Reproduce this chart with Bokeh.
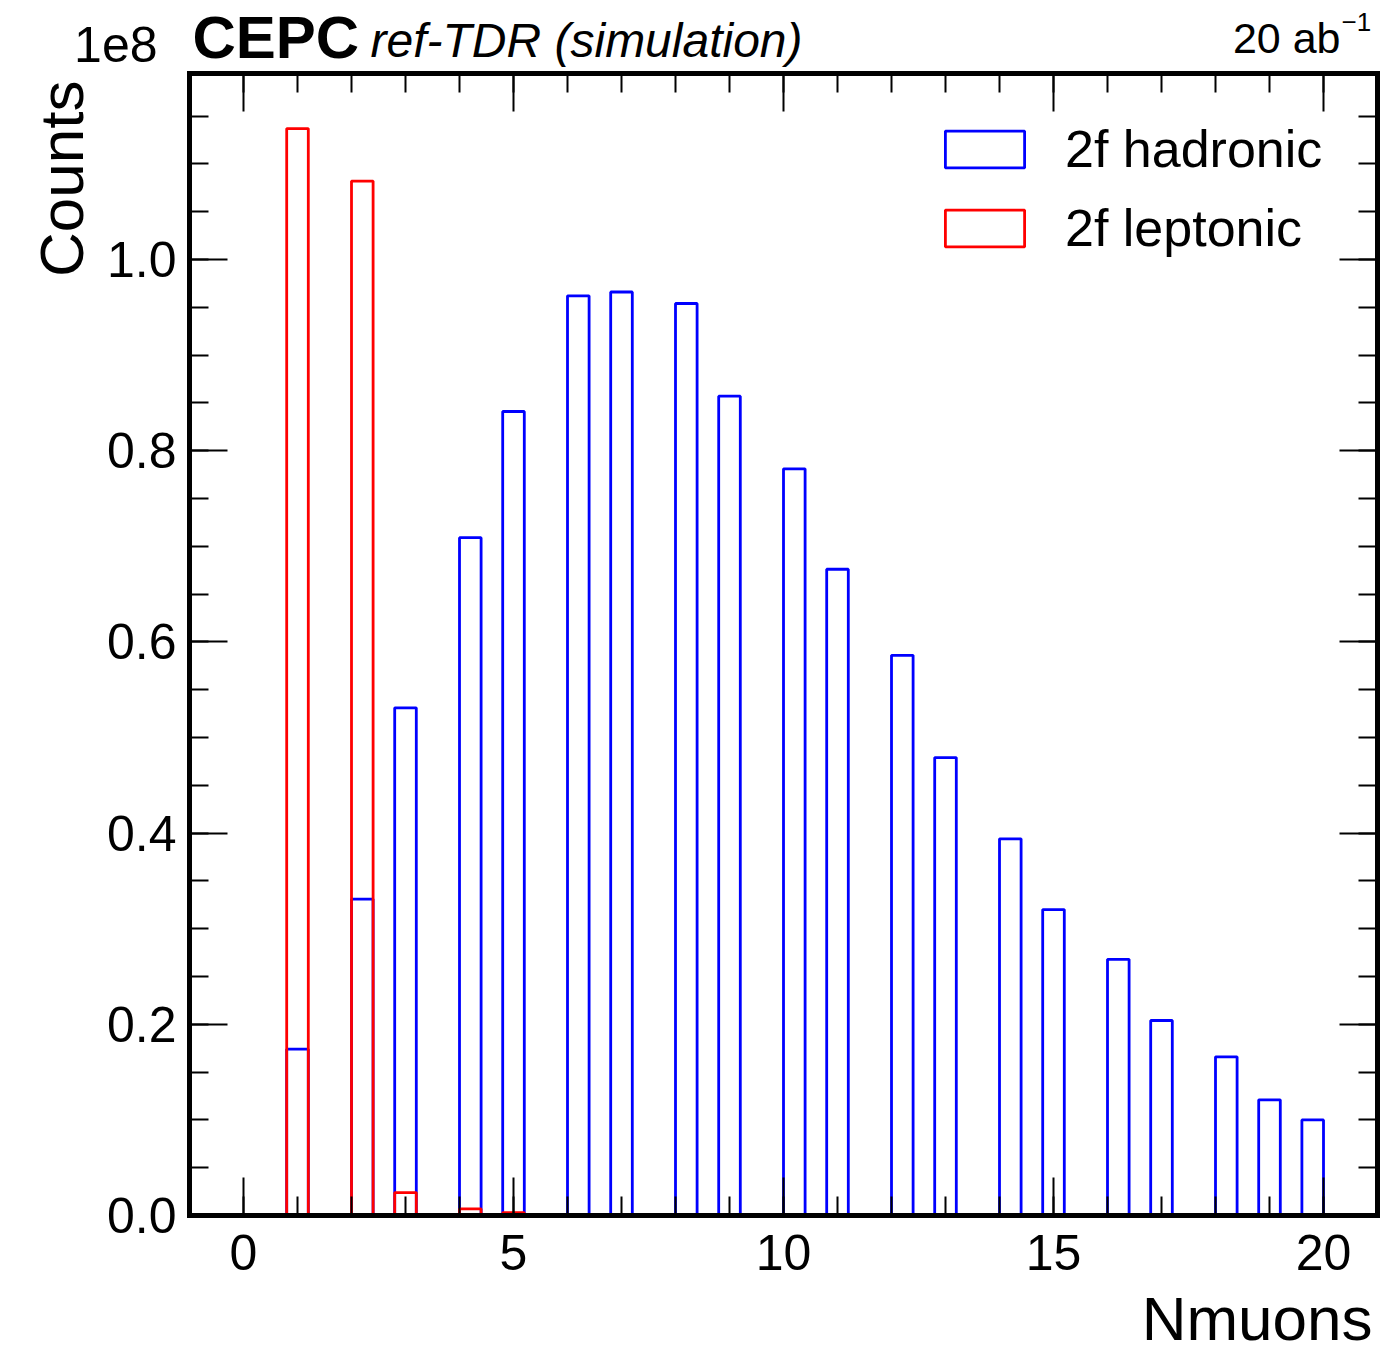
import numpy as np
from bokeh.plotting import figure
from bokeh.models import (ColumnDataSource, FixedTicker, LinearAxis, Label, Legend, LegendItem,
                          CustomJSTickFormatter, Range1d)
from bokeh.embed import file_html
from bokeh.resources import INLINE

# ---------------- data ----------------
nmuons = list(range(1, 21))
# counts per Nmuons value (raw counts)
hadronic_counts = [0.174e8, 0.331e8, 0.531e8, 0.709e8, 0.841e8, 0.962e8, 0.966e8, 0.954e8,
                   0.857e8, 0.781e8, 0.676e8, 0.586e8, 0.479e8, 0.394e8, 0.320e8, 0.268e8,
                   0.204e8, 0.166e8, 0.121e8, 0.100e8]
leptonic_counts = [1.137e8, 1.082e8, 0.024e8, 0.007e8, 0.003e8, 0, 0, 0, 0, 0,
                   0, 0, 0, 0, 0, 0, 0, 0, 0, 0]
series_names = ["2f hadronic", "2f leptonic"]
series_colors = ["blue", "red"]
n_bins = 50
hist_range = (0, 20)
y_scale = 1e8
x_major = [0, 5, 10, 15, 20]
y_major = [0.0, 0.2, 0.4, 0.6, 0.8, 1.0]
x_box = (-1, 21)      # axes box in data units
y_box = (0, 1.195)

FONT = "Liberation Sans"

# ---------------- layout (canvas pixels) ----------------
W, H = 1384, 1352
X0_PX, PX_PER_X = 243, 54.0     # pixel of x=0, pixels per x unit
Y0_PX, PX_PER_Y = 1215, 956.0   # pixel of y=0, pixels per y unit
BASELINE_SHIFT = 0.39           # em offset of Bokeh's alphabetic anchor in this renderer


def dx(cx):
    return (cx - X0_PX) / PX_PER_X


def dy(cy):
    return (Y0_PX - cy) / PX_PER_Y


p = figure(width=W, height=H, output_backend="svg", toolbar_location=None,
           x_range=Range1d(dx(0), dx(W)), y_range=Range1d(dy(H), dy(0)),
           min_border=0, min_border_left=0, min_border_right=0, min_border_top=0,
           min_border_bottom=0, x_axis_type=None, y_axis_type=None)
p.grid.visible = False
p.outline_line_color = None
p.background_fill_color = "white"
p.border_fill_color = "white"

renderers = []
for counts, color in zip([hadronic_counts, leptonic_counts], series_colors):
    hist, edges = np.histogram(nmuons, bins=n_bins, range=hist_range, weights=counts)
    mask = hist > 0
    src = ColumnDataSource(dict(left=edges[:-1][mask], right=edges[1:][mask],
                                top=hist[mask] / y_scale, bottom=np.zeros(mask.sum())))
    r = p.quad(left="left", right="right", top="top", bottom="bottom", source=src,
               fill_color=None, line_color=color, line_width=2.8)
    renderers.append(r)

xt = FixedTicker(ticks=x_major, minor_ticks=list(range(x_box[0], x_box[1] + 1)))
yt = FixedTicker(ticks=y_major, minor_ticks=[round(0.05 * i, 2) for i in range(0, 24)])


def make_axis(ticker, loc, bounds, show):
    ax = LinearAxis(ticker=ticker, fixed_location=loc, bounds=bounds)
    ax.axis_line_color = "black"
    ax.axis_line_width = 5
    ax.axis_line_cap = "square"
    ax.major_tick_in = 38
    ax.major_tick_out = 0
    ax.minor_tick_in = 19
    ax.minor_tick_out = 0
    ax.major_tick_line_width = 2
    ax.minor_tick_line_width = 2
    ax.major_tick_line_color = "black"
    ax.minor_tick_line_color = "black"
    if show:
        ax.major_label_text_font = FONT
        ax.major_label_text_font_size = "50px"
        ax.major_label_text_color = "black"
    else:
        ax.major_label_text_font_size = "0px"
        ax.major_label_standoff = 0
        ax.formatter = CustomJSTickFormatter(code="return ''")
    return ax


xb = make_axis(xt, y_box[0], x_box, True)
xb.major_label_standoff = 19
p.add_layout(xb, "below")
p.add_layout(make_axis(xt, y_box[1], x_box, False), "above")

yl = make_axis(yt, x_box[0], y_box, True)
yl.major_label_standoff = 13
yl.formatter = CustomJSTickFormatter(code="return tick.toFixed(1)")
p.add_layout(yl, "left")
p.add_layout(make_axis(yt, x_box[1], y_box, False), "right")

# legend
legend = Legend(items=[LegendItem(label=n, renderers=[r]) for n, r in zip(series_names, renderers)],
                location=(935, 1094), orientation="vertical",
                glyph_width=99, glyph_height=46, label_standoff=31, spacing=19,
                padding=0, margin=0, border_line_color=None, background_fill_alpha=0,
                label_text_font=FONT, label_text_font_size="52px", label_text_color="black")
p.add_layout(legend)


# texts (cx, cy = wanted pixel of the text's start/end on its baseline)
def lab(text, cx, cy, size, align="left", style="normal", rotated=False):
    shift = BASELINE_SHIFT * size
    if rotated:
        x, y, angle = dx(cx - shift), dy(cy), np.pi / 2
    else:
        x, y, angle = dx(cx), dy(cy - shift), 0.0
    p.add_layout(Label(x=x, y=y, text=text, text_font=FONT, text_font_size=f"{size}px",
                       text_align=align, text_baseline="alphabetic", text_font_style=style,
                       angle=angle, text_color="black"))


lab("1e8", 157, 63, 50, align="right")
lab("CEPC", 192, 60, 60, style="bold")
lab("ref-TDR (simulation)", 370, 59, 48, style="italic")
lab("20 ab", 1340, 54, 43, align="right")
lab("\u22121", 1341, 32, 26)
lab("Counts", 85, 80, 62, align="right", rotated=True)
lab("Nmuons", 1372, 1342, 62, align="right")

open("out.html", "w").write(file_html(p, INLINE))
